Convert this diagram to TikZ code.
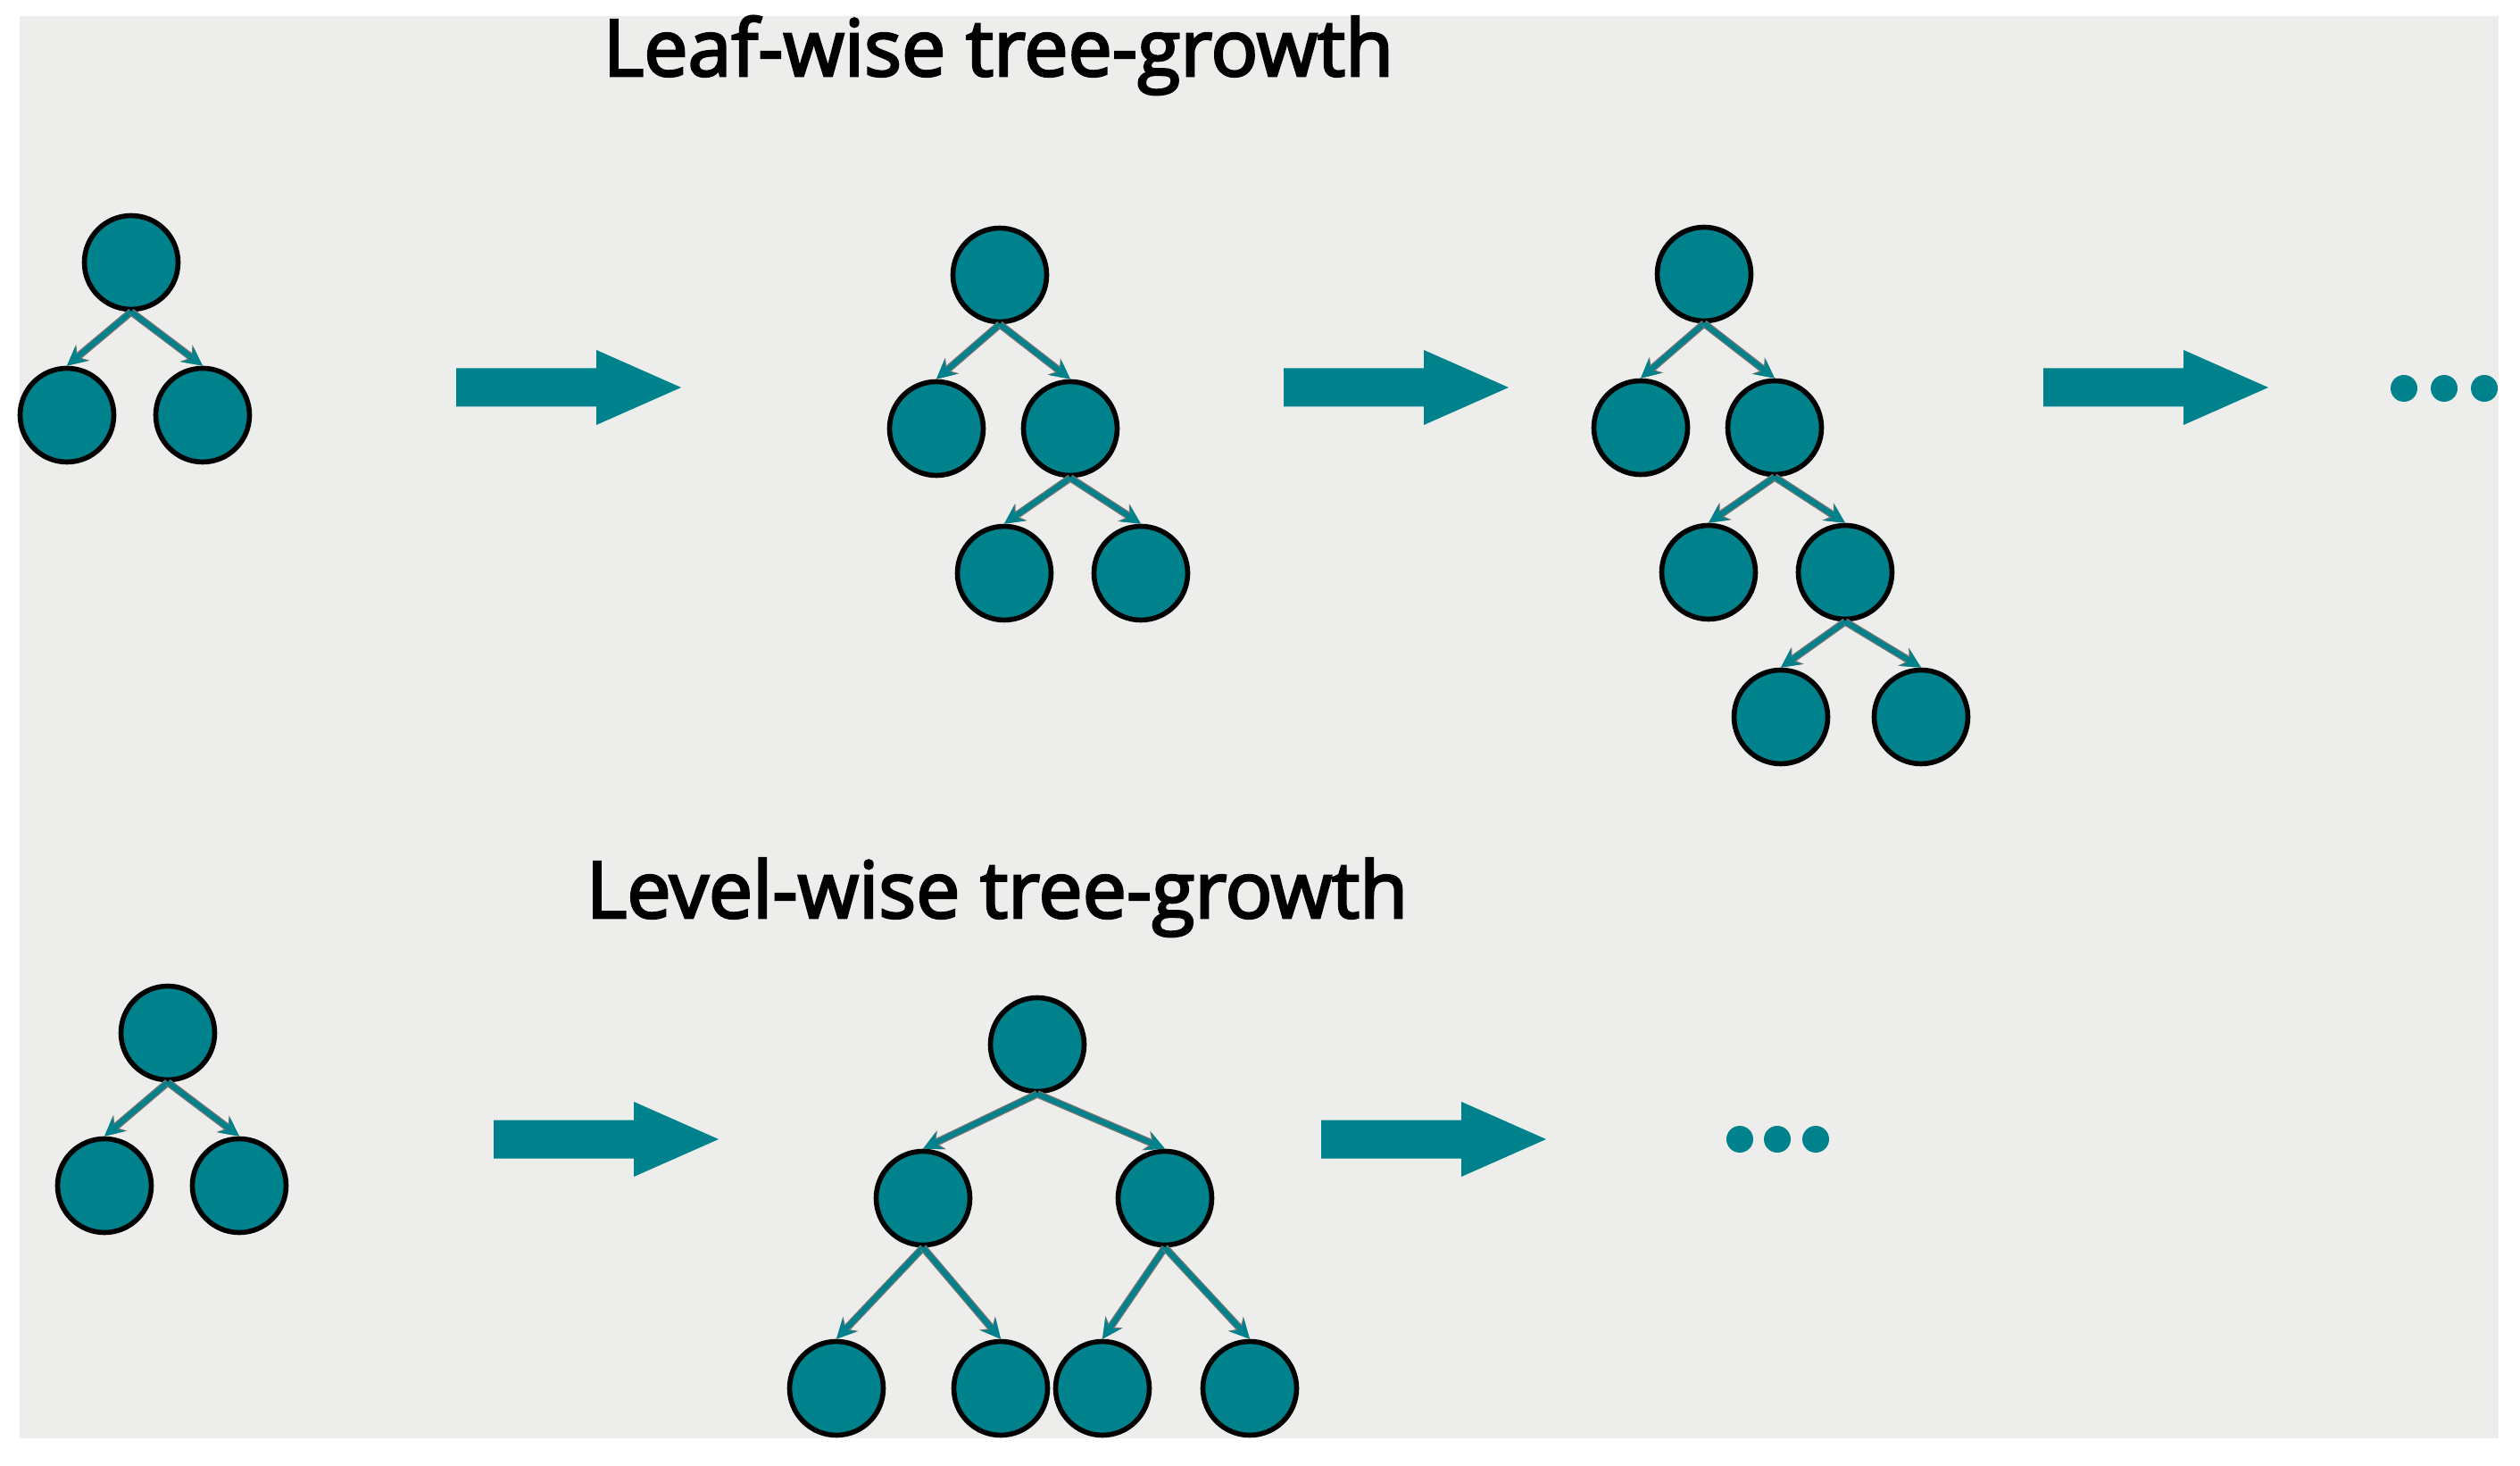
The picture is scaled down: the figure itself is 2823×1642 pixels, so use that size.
\documentclass[tikz,border=0pt]{standalone}
\usepackage{xcolor}
\usepackage{fontspec}
\usepackage{tikz}
\usetikzlibrary{arrows.meta,positioning}
\newfontfamily\titlefont[FakeBold=3]{Open Sans}
\definecolor{treeteal}{RGB}{0,130,140}
\definecolor{bggray}{RGB}{237,237,235}
\tikzset{
  treenode/.style={circle,fill=treeteal,draw=black,line width=1.6pt,minimum size=10.5mm,inner sep=0pt},
  branch/.style={every edge/.style={draw=treeteal,line width=1.6pt,-{Stealth[length=2.1mm,width=2.1mm]},
    preaction={draw=black!55,line width=2.4pt,-{Stealth[length=2.3mm,width=2.3mm]}}}},
  growtitle/.style={anchor=base west,inner sep=0pt,font=\titlefont\fontsize{25}{30}\selectfont}
}
% block arrow: tail at (#1,#2)
\newcommand{\growarrow}[2]{\fill[treeteal] (#1,#2-21.5) -- ++(157,0) -- ++(0,-20.5) -- (#1+252,#2) -- (#1+157,#2+42) -- ++(0,-20.5) -- (#1,#2+21.5) -- cycle;}

\begin{document}
\begin{tikzpicture}[x=0.1mm,y=-0.1mm,on grid]
\useasboundingbox (0,0) rectangle (2823,1642);
\fill[bggray] (22,18) rectangle (2799,1611);

% leaf-wise
\node[growtitle] (leafwise) at (675,85) {Leaf-wise tree-growth};

\node[treenode] (A) at (147,294) {};
\node[treenode] (A1) [below left=17.1mm and 7.2mm of A] {};
\node[treenode] (A2) [below right=17.1mm and 8mm of A] {};

\node[treenode] (B) at (1120,308) {};
\node[treenode] (B1) [below left=17.2mm and 7.1mm of B] {};
\node[treenode] (B2) [below right=17.2mm and 7.9mm of B] {};
\node[treenode] (B21) [below left=16.2mm and 7.4mm of B2] {};
\node[treenode] (B22) [below right=16.2mm and 7.9mm of B2] {};

\node[treenode] (C) at (1909,307) {};
\node[treenode] (C1) [below left=17.2mm and 7.1mm of C] {};
\node[treenode] (C2) [below right=17.2mm and 7.9mm of C] {};
\node[treenode] (C21) [below left=16.2mm and 7.4mm of C2] {};
\node[treenode] (C22) [below right=16.2mm and 7.9mm of C2] {};
\node[treenode] (C221) [below left=16.2mm and 7.2mm of C22] {};
\node[treenode] (C222) [below right=16.2mm and 8.5mm of C22] {};

\path[branch] (A.south) edge (A1.north) (A.south) edge (A2.north);
\path[branch] (B.south) edge (B1.north) (B.south) edge (B2.north);
\path[branch] (B2.south) edge (B21.north) (B2.south) edge (B22.north);
\path[branch] (C.south) edge (C1.north) (C.south) edge (C2.north);
\path[branch] (C2.south) edge (C21.north) (C2.south) edge (C22.north);
\path[branch] (C22.south) edge (C221.north) (C22.south) edge (C222.north);

\growarrow{511}{434}
\growarrow{1438}{434}
\growarrow{2289}{434}
\foreach \x in {2693,2738,2783} \fill[treeteal] (\x,435) circle (15);

% level-wise
\node[growtitle] (levelwise) at (656,1028) {Level-wise tree-growth};

\node[treenode] (D) at (188,1157) {};
\node[treenode] (D1) [below left=17.1mm and 7.1mm of D] {};
\node[treenode] (D2) [below right=17.1mm and 8mm of D] {};

\node[treenode] (E) at (1162,1170) {};
\node[treenode] (E1) [below left=17.2mm and 12.8mm of E] {};
\node[treenode] (E2) [below right=17.2mm and 14.3mm of E] {};
\node[treenode] (E11) [below left=21.3mm and 9.7mm of E1] {};
\node[treenode] (E12) [below right=21.3mm and 8.7mm of E1] {};
\node[treenode] (E21) [below left=21.3mm and 7mm of E2] {};
\node[treenode] (E22) [below right=21.3mm and 9.5mm of E2] {};

\path[branch] (D.south) edge (D1.north) (D.south) edge (D2.north);
\path[branch] (E.south) edge (E1.north) (E.south) edge (E2.north);
\path[branch] (E1.south) edge (E11.north) (E1.south) edge (E12.north);
\path[branch] (E2.south) edge (E21.north) (E2.south) edge (E22.north);

\growarrow{553}{1276}
\growarrow{1480}{1276}
\foreach \x in {1949,1991,2034} \fill[treeteal] (\x,1276) circle (15);

\end{tikzpicture}
\end{document}
